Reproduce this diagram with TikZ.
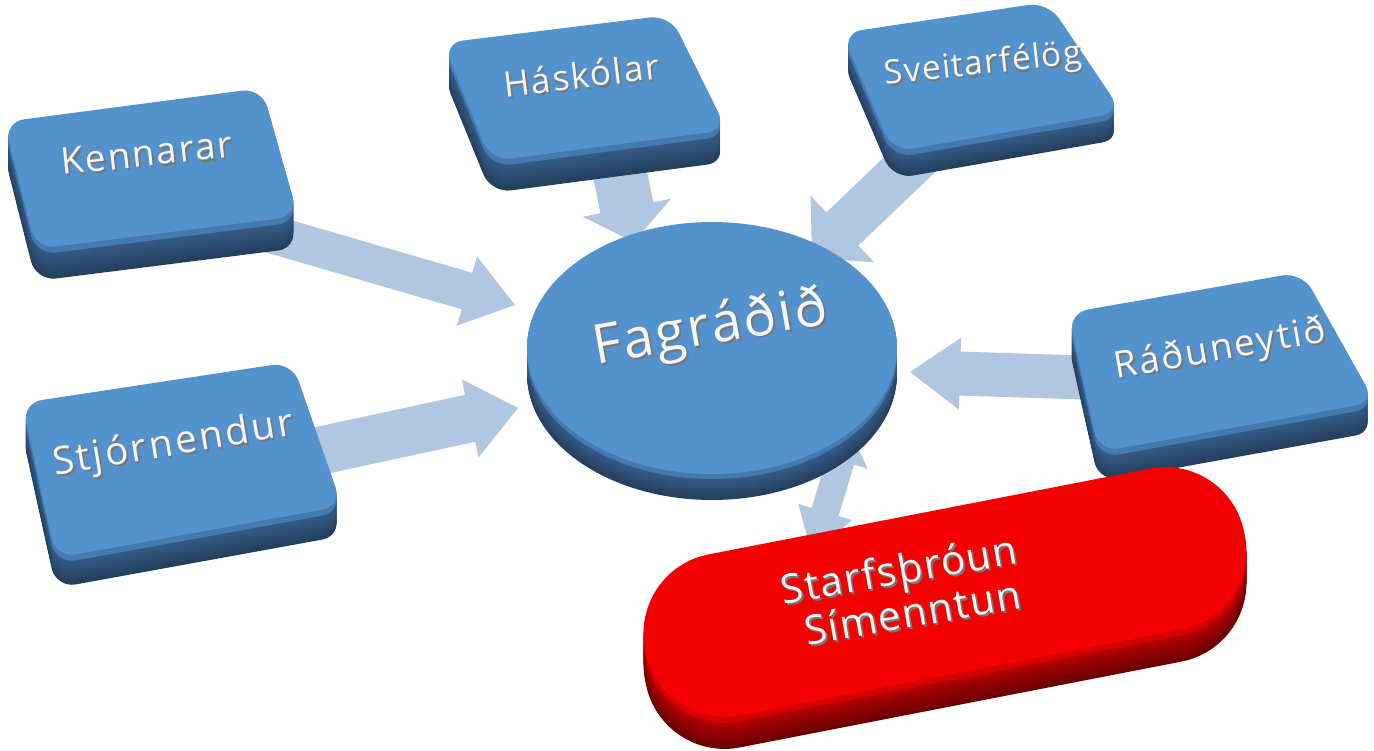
\documentclass[tikz,border=0pt]{standalone}
\usepackage{fontspec}
\setmainfont{Open Sans}
\usetikzlibrary{calc}
\definecolor{face}{RGB}{84,146,205}
\definecolor{bevel}{RGB}{68,122,176}
\definecolor{sidetop}{RGB}{52,92,136}
\definecolor{sidebot}{RGB}{36,62,92}
\definecolor{rface}{RGB}{243,0,0}
\definecolor{rbevel}{RGB}{212,0,0}
\definecolor{rsidetop}{RGB}{180,0,0}
\definecolor{rsidebot}{RGB}{105,0,0}
\definecolor{flowc}{RGB}{176,198,225}
\definecolor{txt}{RGB}{246,246,246}
\definecolor{txtsh}{RGB}{118,118,118}
\tikzset{flow/.style={fill=flowc},
  lab/.style={inner sep=0pt, anchor=base, align=center}}
% extruded slab: #1 options, #2 path, #3 depth, #4 bevel px, #5 bevel, #6 side top, #7 side bottom, #8 face
\newcommand\slab[8]{%
  \foreach \i in {#3,...,1}{%
    \pgfmathtruncatemacro\pc{\i<=#4 ? -1 : 100*(\i-#4)/(#3-#4)}%
    \ifnum\pc<0 \def\cc{#5}\else\edef\cc{#7!\pc!#6}\fi
    \fill[fill=\cc,yshift={-0.02cm*\i},#1] #2;
  }%
  \fill[fill=#8,#1] #2;
}
% block arrow: #1 start, #2 tip, #3 shaft half width, #4 head half width, #5 head length
\newcommand\fatarrow[5]{%
  \coordinate (#1base) at ($(#2)!#5!(#1)$);
  \fill[flow] ($(#1)!#3!90:(#2)$) -- ($(#1base)!#3!90:(#2)$) -- ($(#1base)!#4!90:(#2)$)
    -- (#2) -- ($(#1base)!#4!-90:(#2)$) -- ($(#1base)!#3!-90:(#2)$) -- ($(#1)!#3!-90:(#2)$) -- cycle;
}
% double block arrow
\newcommand\dblarrow[6]{% #1 tip A, #2 tip B, #3 shaft hw, #4 head hw, #5 head len A, #6 head len B
  \coordinate (#1base) at ($(#1)!#5!(#2)$);
  \coordinate (#2base) at ($(#2)!#6!(#1)$);
  \fill[flow] (#1) -- ($(#1base)!#4!90:(#2)$) -- ($(#1base)!#3!90:(#2)$) -- ($(#2base)!#3!-90:(#1)$)
    -- ($(#2base)!#4!-90:(#1)$) -- (#2) -- ($(#2base)!#4!90:(#1)$) -- ($(#2base)!#3!90:(#1)$)
    -- ($(#1base)!#3!-90:(#2)$) -- ($(#1base)!#4!-90:(#2)$) -- cycle;
}
% raised text with a grey relief
\newcommand\shtext[1]{\leavevmode\rlap{\kern0.9pt\raisebox{-1.3pt}{\textcolor{txtsh}{#1}}}\textcolor{txt}{#1}}
\newcommand\fsz[2]{\fontsize{#1}{#1}\selectfont\addfontfeatures{LetterSpace=#2}}
\begin{document}
\begin{tikzpicture}[x=0.02cm,y=-0.02cm]
\useasboundingbox (0,0) rectangle (1374,751);
\fill[white] (0,0) rectangle (1374,751);

% connectors (behind the shapes)
\coordinate (kA) at (250,228);  \coordinate (kB) at (515,305);
\coordinate (sA) at (300,455);  \coordinate (sB) at (518,408);
\coordinate (hA) at (615,150);  \coordinate (hB) at (634,242);
\coordinate (vA) at (925,150);  \coordinate (vB) at (812,258);
\coordinate (rA) at (1100,378); \coordinate (rB) at (910,372);
\coordinate (pA) at (850,430);  \coordinate (pB) at (812,555);
\fatarrow{kA}{kB}{0.38cm}{0.72cm}{1.0cm}
\fatarrow{sA}{sB}{0.48cm}{0.80cm}{0.98cm}
\fatarrow{hA}{hB}{0.54cm}{0.90cm}{0.70cm}
\fatarrow{vA}{vB}{0.46cm}{0.92cm}{0.84cm}
\fatarrow{rA}{rB}{0.44cm}{0.72cm}{1.0cm}
\dblarrow{pA}{pB}{0.28cm}{0.56cm}{0.64cm}{0.90cm}

% boxes
\slab{rounded corners=0.4cm}{(4,122) -- (262,88) -- (298,216) -- (36,249) -- cycle}{32}{6}{bevel}{sidetop}{sidebot}{face}
\slab{rounded corners=0.4cm}{(443,43) -- (670,15) -- (727,130) -- (491,161) -- cycle}{32}{6}{bevel}{sidetop}{sidebot}{face}
\slab{rounded corners=0.4cm}{(842,33) -- (1048,2) -- (1122,112) -- (893,152) -- cycle}{27}{6}{bevel}{sidetop}{sidebot}{face}
\slab{rounded corners=0.4cm}{(1068,313) -- (1302,272) -- (1375,402) -- (1099,452) -- cycle}{30}{6}{bevel}{sidetop}{sidebot}{face}
\slab{rounded corners=0.4cm}{(22,403) -- (292,362) -- (342,506) -- (56,558) -- cycle}{30}{6}{bevel}{sidetop}{sidebot}{face}
% centre disc
\slab{}{(712,348) ellipse [x radius=3.7cm, y radius=2.52cm]}{26}{5}{bevel}{sidetop}{sidebot}{face}
% red pill
\slab{shift={(945,592)},rotate=11,rounded corners=1.6cm}{(-305,-82) rectangle (305,82)}{32}{6}{rbevel}{rsidetop}{rsidebot}{rface}

% labels
\node[lab, font=\fsz{21}{5}, rotate=6] (k) at (148,166) {\shtext{Kennarar}};
\node[lab, font=\fsz{20}{5}, rotate=7] (h) at (583,88) {\shtext{Háskólar}};
\node[lab, font=\fsz{19}{4}, rotate=6] (v) at (984,74) {\shtext{Sveitarfélög}};
\node[lab, font=\fsz{21}{6}, rotate=10] (r) at (1222,360) {\shtext{Ráðuneytið}};
\node[lab, font=\fsz{22}{7}, rotate=9.5] (s) at (175,455) {\shtext{Stjórnendur}};
\node[lab, font=\fsz{31}{5}, rotate=10] (f) at (713,344) {\shtext{Fagráðið}};
\node[inner sep=0pt, align=left, font=\fontsize{23}{22.5}\selectfont\addfontfeatures{LetterSpace=4}, rotate=10] (p) at (903,592) {\shtext{Starfsþróun}\\\hspace*{9pt}\shtext{Símenntun}};
\end{tikzpicture}
\end{document}
